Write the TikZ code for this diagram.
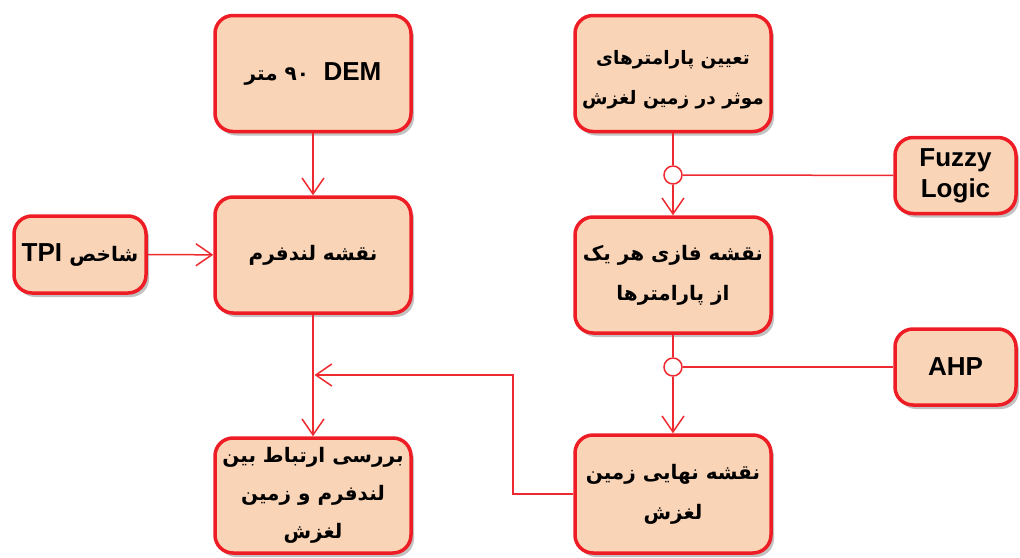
\documentclass[tikz,border=0pt]{standalone}
\usepackage{fontspec}
\setmainfont{Liberation Sans}
\newfontfamily\ar[Script=Arabic]{DejaVu Sans}
\TeXXeTstate=1
\usetikzlibrary{arrows.meta,shadows}
\definecolor{boxred}{HTML}{EE1C24}
\definecolor{boxfill}{HTML}{FAD4B6}
\definecolor{linered}{HTML}{EE2A30}
\begin{document}
\begin{tikzpicture}[x=1pt,y=-1pt,
  box/.style={draw=boxred, line width=3.5pt, fill=boxfill, rounded corners=18pt,
    drop shadow={shadow xshift=3pt,shadow yshift=-4pt,opacity=0.4,fill=black!60},
    inner sep=0pt, align=center, font=\bfseries\fontsize{26}{31}\selectfont},
  bigbox/.style={box, minimum width=196pt, minimum height=116pt},
  smallbox/.style={box, minimum width=121pt, minimum height=76pt},
  artext/.style={font=\ar\bfseries\fontsize{20}{40}\selectfont},
  conn/.style={draw=linered, line width=1.5pt},
  vtip/.tip={Straight Barb[length=16pt,width=22pt,line width=1.5pt]},
  junction/.style={circle, draw=linered, line width=1.5pt, fill=white, minimum size=18pt, inner sep=0pt}
]
\useasboundingbox (0,0) rectangle (1020,557);

\node[bigbox] (dem) at (313,73.5) {\beginR DEM\ \ {\ar\fontsize{20}{24}\selectfont\beginL ۹۰\endL{} متر}\endR};
\node[bigbox] (param) at (673,73.5) {};
\node[align=center, inner sep=0pt, font=\ar\bfseries\fontsize{18.5}{40}\selectfont] (paramtext) at ([yshift=-6pt]param.center) {\beginR تعیین پارامترهای\endR\\\beginR موثر در زمین لغزش\endR};
\node[smallbox] (fuzzy) at (955.5,175.5) {Fuzzy\\Logic};
\node[box, minimum width=132pt, minimum height=77pt] (tpi) at (80,254.5) {\beginR{\ar\fontsize{20}{24}\selectfont شاخص}\ TPI\endR};
\node[bigbox, artext] (land) at (313,255) {\beginR نقشه لندفرم\endR};
\node[bigbox, artext] (phase) at (673,275) {\beginR نقشه فازی هر یک\endR\\\beginR از پارامترها\endR};
\node[smallbox] (ahp) at (955.5,367) {AHP};
\node[bigbox, minimum height=115pt, artext, font=\ar\bfseries\fontsize{20}{38}\selectfont] (rel) at (313,495.5) {\beginR بررسی ارتباط بین\endR\\\beginR لندفرم و زمین\endR\\\beginR لغزش\endR};
\node[bigbox, minimum height=118pt, artext] (final) at (673,494) {\beginR نقشه نهایی زمین\endR\\\beginR لغزش\endR};

\node[junction] (j1) at (673,175) {};
\node[junction] (j2) at (673,367) {};
\coordinate (m) at (314.5,375);
\coordinate (elb) at (513,375);

\draw[conn,-{vtip}] (dem) -- (land);
\draw[conn,-{vtip}] (tpi) -- (land);
\draw[conn,-{vtip}] (land) -- (rel);
\draw[conn] (param) -- (j1);
\draw[conn,-{vtip}] (j1) -- (phase);
\draw[conn] (j1) -- (fuzzy);
\draw[conn] (phase) -- (j2);
\draw[conn,-{vtip}] (j2) -- (final);
\draw[conn] (j2) -- (ahp);
\draw[conn,-{vtip}] (final.west) -| (elb) -- (m);
\end{tikzpicture}
\end{document}
